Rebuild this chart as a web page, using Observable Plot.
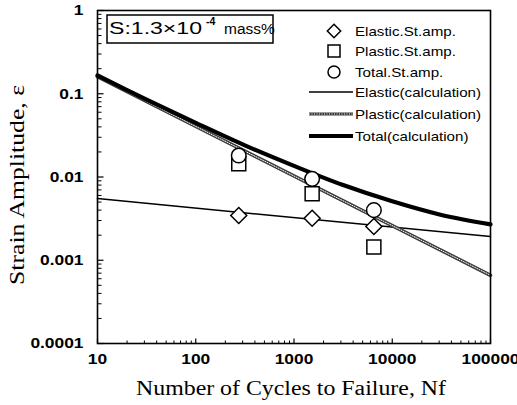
<!DOCTYPE html>
<html><head><meta charset="utf-8">
<script src="https://cdn.jsdelivr.net/npm/d3@7"></script>
<script src="https://cdn.jsdelivr.net/npm/@observablehq/plot@0.6"></script>
<style>
html,body{margin:0;padding:0;background:#fff;}
#chart svg{display:block;}
</style></head><body><div id="chart"></div>
<script>
// ---- data ----
const cyclesObs  = [274, 1530, 6500];
const elasticObs = [0.00345, 0.0032, 0.00254];
const plasticObs = [0.0144, 0.0063, 0.00144];
const totalObs   = [0.0181, 0.0095, 0.0040];

const calcCycles  = [10, 100000];
const elasticCalc = [0.0055, 0.00193];
const plasticCalc = [0.16, 0.00066];
const totalCycles = [10, 31.6, 100, 316, 1000, 3162, 10000, 31623, 100000];
const totalCalc   = [0.166, 0.085, 0.0447, 0.024, 0.0136, 0.008, 0.0051, 0.0035, 0.0027];

const xTicks = [10, 100, 1000, 10000, 100000];
const yTicks = [1, 0.1, 0.01, 0.001, 0.0001];
const legendLabels = ["Elastic.St.amp.", "Plastic.St.amp.", "Total.St.amp.",
  "Elastic(calculation)", "Plastic(calculation)", "Total(calculation)"];
const noteMain = "S:1.3\u00d710", noteExp = "-4", noteUnit = "mass%";
const xLabel = "Number of Cycles to Failure, Nf";
const yLabel = "Strain Amplitude, \u03b5";

// ---- helpers ----
const xMinor = [], yMinor = [];
for (let k = 1; k < 5; k++) for (let m = 2; m < 10; m++) xMinor.push(m * 10 ** k);
for (let k = -4; k < 0; k++) for (let m = 2; m < 10; m++) yMinor.push(+(m * 10 ** k).toPrecision(3));

const sans = "'Liberation Sans', Arial, sans-serif";
const serif = "'Liberation Serif', 'Times New Roman', serif";
const diamond = {draw(ctx, size) { const r = Math.sqrt(size) * 0.62625;
  ctx.moveTo(0, -r); ctx.lineTo(r, 0); ctx.lineTo(0, r); ctx.lineTo(-r, 0); ctx.closePath(); }};
const tickUp = len => ({draw(ctx) { ctx.moveTo(0, 0); ctx.lineTo(0, -len); }});
const tickRight = len => ({draw(ctx) { ctx.moveTo(0, 0); ctx.lineTo(len, 0); }});

const obs = cyclesObs.map((c, i) => ({c, e: elasticObs[i], p: plasticObs[i], t: totalObs[i]}));
const eLine = calcCycles.map((c, i) => ({c, v: elasticCalc[i]}));
const pLine = calcCycles.map((c, i) => ({c, v: plasticCalc[i]}));
const tLine = totalCycles.map((c, i) => ({c, v: totalCalc[i]}));

const plot = Plot.plot({
  width: 517, height: 405,
  marginLeft: 97, marginRight: 27, marginTop: 10, marginBottom: 62,
  style: {fontFamily: sans, background: "white", color: "black"},
  x: {type: "log", domain: [10, 100000]},
  y: {type: "log", domain: [0.0001, 1]},
  marks: [
    Plot.axisX({ticks: xTicks, tickSize: 0, tickPadding: 9, tickFormat: d => String(d),
      fontSize: 15.5, fontWeight: "bold", label: null}),
    Plot.axisY({ticks: yTicks, tickSize: 0, tickPadding: 14, tickFormat: d => String(d),
      fontSize: 15.5, fontWeight: "bold", label: null}),
    Plot.dot(xMinor, {x: d => d, frameAnchor: "bottom", symbol: tickUp(3), stroke: "black", fill: "none", strokeWidth: 1}),
    Plot.dot(xTicks, {x: d => d, frameAnchor: "bottom", symbol: tickUp(5), stroke: "black", fill: "none", strokeWidth: 1.2}),
    Plot.dot(yMinor, {y: d => d, frameAnchor: "left", symbol: tickRight(4), stroke: "black", fill: "none", strokeWidth: 1}),
    Plot.dot(yTicks, {y: d => d, frameAnchor: "left", symbol: tickRight(6), stroke: "black", fill: "none", strokeWidth: 1.2}),
    Plot.line(eLine, {x: "c", y: "v", stroke: "black", strokeWidth: 1.5}),
    Plot.line(pLine, {x: "c", y: "v", stroke: "#3a3a3a", strokeWidth: 3.6}),
    Plot.line(pLine, {x: "c", y: "v", stroke: "white", strokeWidth: 1, strokeDasharray: "1 1.5"}),
    Plot.line(tLine, {x: "c", y: "v", stroke: "black", strokeWidth: 4.2, curve: "catmull-rom"}),
    Plot.dot(obs, {x: "c", y: "p", symbol: "square", r: 7.9, fill: "white", stroke: "black", strokeWidth: 1.5}),
    Plot.dot(obs, {x: "c", y: "e", symbol: diamond, r: 7.2, fill: "white", stroke: "black", strokeWidth: 1.5}),
    Plot.dot(obs, {x: "c", y: "t", symbol: "circle", r: 7.3, fill: "white", stroke: "black", strokeWidth: 1.5}),
    Plot.frame({stroke: "black", strokeWidth: 1.6})
  ]
});
document.getElementById("chart").appendChild(plot);

// ---- annotations (axis titles, note box, legend) ----
const svg = d3.select(plot);
function stretch(sel, len) { sel.attr("textLength", len).attr("lengthAdjust", "spacingAndGlyphs"); return sel; }
function widen(sel, f) { sel.each(function () { const n = this.getComputedTextLength(); if (n > 0) d3.select(this).attr("textLength", n * f).attr("lengthAdjust", "spacingAndGlyphs"); }); }
widen(svg.selectAll("text"), 1.12);   // tick labels only exist at this point

stretch(svg.append("text").attr("x", 291).attr("y", 395).attr("text-anchor", "middle")
  .attr("font-family", serif).attr("font-size", 20).attr("fill", "black").text(xLabel), 310);
stretch(svg.append("text").attr("transform", "translate(24,185) rotate(-90)").attr("text-anchor", "middle")
  .attr("font-family", serif).attr("font-size", 20).attr("fill", "black").text(yLabel), 200);

const note = svg.append("g").attr("text-anchor", "start");
note.append("rect").attr("x", 107).attr("y", 15).attr("width", 166).attr("height", 28)
  .attr("fill", "white").attr("stroke", "black").attr("stroke-width", 1.5);
stretch(note.append("text").attr("x", 109).attr("y", 34).attr("font-family", sans).attr("font-size", 16).attr("fill", "black").text(noteMain), 93);
note.append("text").attr("x", 206).attr("y", 25).attr("font-family", sans).attr("font-size", 10.5).attr("font-weight", "bold").attr("fill", "black").text(noteExp);
note.append("text").attr("x", 224).attr("y", 34).attr("font-family", sans).attr("font-size", 15.5).attr("fill", "black").text(noteUnit);

const leg = svg.append("g").attr("text-anchor", "start");
const rows = [31, 51, 72, 92, 114, 136];
const symX = 334;
leg.append("path").attr("d", d3.symbol(diamond, 36 * Math.PI)()).attr("transform", `translate(${symX},${rows[0]})`)
  .attr("fill", "white").attr("stroke", "black").attr("stroke-width", 1.5);
leg.append("rect").attr("x", symX - 6).attr("y", rows[1] - 6).attr("width", 12).attr("height", 12)
  .attr("fill", "white").attr("stroke", "black").attr("stroke-width", 1.5);
leg.append("circle").attr("cx", symX).attr("cy", rows[2]).attr("r", 6)
  .attr("fill", "white").attr("stroke", "black").attr("stroke-width", 1.5);
leg.append("line").attr("x1", 309).attr("x2", 353).attr("y1", rows[3]).attr("y2", rows[3]).attr("stroke", "black").attr("stroke-width", 1.5);
leg.append("line").attr("x1", 309).attr("x2", 353).attr("y1", rows[4]).attr("y2", rows[4]).attr("stroke", "#3a3a3a").attr("stroke-width", 3.2);
leg.append("line").attr("x1", 309).attr("x2", 353).attr("y1", rows[4]).attr("y2", rows[4]).attr("stroke", "white").attr("stroke-width", 1).attr("stroke-dasharray", "1 1.5");
leg.append("line").attr("x1", 309).attr("x2", 353).attr("y1", rows[5]).attr("y2", rows[5]).attr("stroke", "black").attr("stroke-width", 4.2);
legendLabels.forEach((t, i) => {
  const el = leg.append("text").attr("x", 355).attr("y", rows[i]).attr("dy", "0.36em")
    .attr("font-family", sans).attr("font-size", 13.5).attr("fill", "black").text(t);
  const n = el.node().getComputedTextLength();
  stretch(el, n * 1.12);
});
</script></body></html>
